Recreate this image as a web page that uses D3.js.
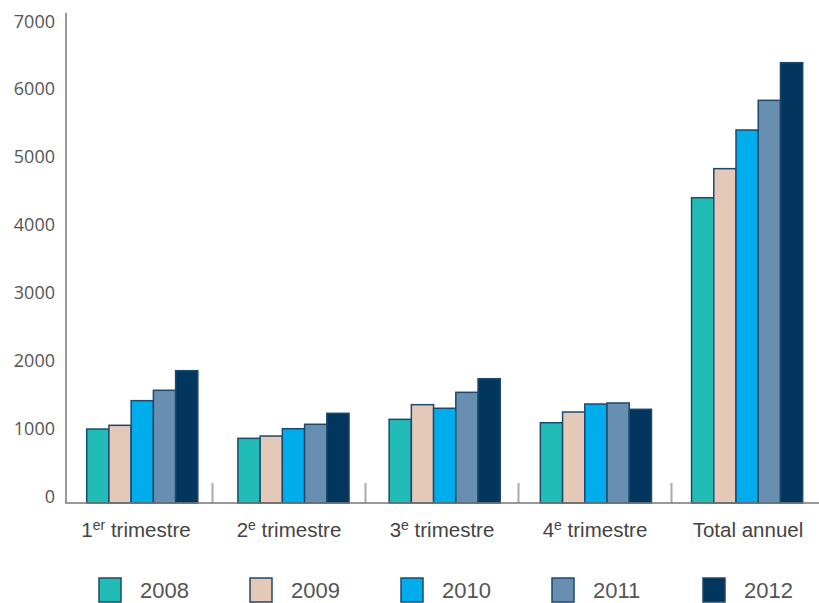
<!DOCTYPE html>
<html>
<head>
<meta charset="utf-8">
<script src="https://cdn.jsdelivr.net/npm/d3@7"></script>
<style>
  html, body { margin: 0; padding: 0; background: #fff; }
  svg { display: block; }
</style>
</head>
<body>
<svg id="chart" width="819" height="603"></svg>
<script>
const categories = ["1er trimestre", "2e trimestre", "3e trimestre", "4e trimestre", "Total annuel"];
const catMain = ["1", "2", "3", "4", "Total annuel"];
const catSup = ["er", "e", "e", "e", ""];
const years = ["2008", "2009", "2010", "2011", "2012"];
const values2008 = [1090, 953, 1233, 1183, 4499];
const values2009 = [1145, 987, 1449, 1341, 4927];
const values2010 = [1508, 1095, 1396, 1459, 5497];
const values2011 = [1661, 1160, 1631, 1474, 5934];
const values2012 = [1950, 1322, 1832, 1381, 6489];
const yTicks = [0, 1000, 2000, 3000, 4000, 5000, 6000, 7000];
const colors = ["#22bcb6", "#e4c9b9", "#00adec", "#688eb1", "#03365e"];

const seriesValues = [values2008, values2009, values2010, values2011, values2012];

const svg = d3.select("#chart");

const y = d3.scaleLinear().domain([0, 7000]).range([503, 28]);

const xCat = d3.scaleBand().domain(categories).range([59.5, 824.5]).padding(0);
const xGroup = d3.scaleBand().domain(categories).range([86.7, 802.7]).paddingInner(0.265).paddingOuter(0);
const xYear = d3.scaleBand().domain(years).range([0, xGroup.bandwidth()]).padding(0);

const yAxis = d3.axisLeft(y).tickValues(yTicks).tickSize(0).tickPadding(0).tickFormat(d3.format("d"));
const gy = svg.append("g").attr("transform", "translate(55,0)").call(yAxis);
gy.select(".domain").remove();
gy.selectAll("text")
  .attr("dy", "-0.05em")
  .style("font-family", "'Open Sans', sans-serif")
  .style("font-size", "18px")
  .attr("fill", "#555");

svg.append("g").selectAll("line")
  .data(categories.slice(1))
  .join("line")
  .attr("x1", d => xCat(d)).attr("x2", d => xCat(d))
  .attr("y1", 483).attr("y2", 503)
  .attr("stroke", "#aaa").attr("stroke-width", 2);

const groups = svg.append("g").selectAll("g")
  .data(categories)
  .join("g")
  .attr("transform", d => `translate(${xGroup(d)},0)`);

groups.selectAll("rect")
  .data((c, ci) => years.map((yr, si) => ({ yr, si, v: seriesValues[si][ci] })))
  .join("rect")
  .attr("x", d => xYear(d.yr))
  .attr("width", xYear.bandwidth())
  .attr("y", d => y(d.v))
  .attr("height", d => y(0) - y(d.v))
  .attr("fill", d => colors[d.si])
  .attr("stroke", "#1d4a6c")
  .attr("stroke-width", 1.5);

svg.append("line").attr("x1", 66).attr("x2", 66).attr("y1", 13).attr("y2", 503)
  .attr("stroke", "#999").attr("stroke-width", 2);
svg.append("line").attr("x1", 65).attr("x2", 819).attr("y1", 503).attr("y2", 503)
  .attr("stroke", "#777").attr("stroke-width", 1.5);

const xl = svg.append("g").selectAll("text")
  .data(categories)
  .join("text")
  .attr("x", d => xCat(d) + xCat.bandwidth() / 2)
  .attr("y", 537)
  .attr("text-anchor", "middle")
  .style("font-family", "'Liberation Sans', Arial, sans-serif")
  .style("font-size", "20.5px")
  .attr("fill", "#444");
xl.each(function(d, i) {
  const t = d3.select(this);
  t.append("tspan").text(catMain[i]);
  if (catSup[i]) {
    t.append("tspan").attr("dy", -7).style("font-size", "14px").text(catSup[i]);
    t.append("tspan").attr("dy", 7).text(" trimestre");
  }
});

const legend = svg.append("g").selectAll("g")
  .data(years)
  .join("g")
  .attr("transform", (d, i) => `translate(${99 + i * 151},578)`);
legend.append("rect")
  .attr("width", 22).attr("height", 24)
  .attr("fill", (d, i) => colors[i])
  .attr("stroke", "#1d4a6c").attr("stroke-width", 1.5);
legend.append("text")
  .attr("x", 41).attr("y", 20)
  .style("font-family", "'Liberation Sans', Arial, sans-serif")
  .style("font-size", "22px")
  .attr("fill", "#555")
  .text(d => d);
</script>
</body>
</html>
